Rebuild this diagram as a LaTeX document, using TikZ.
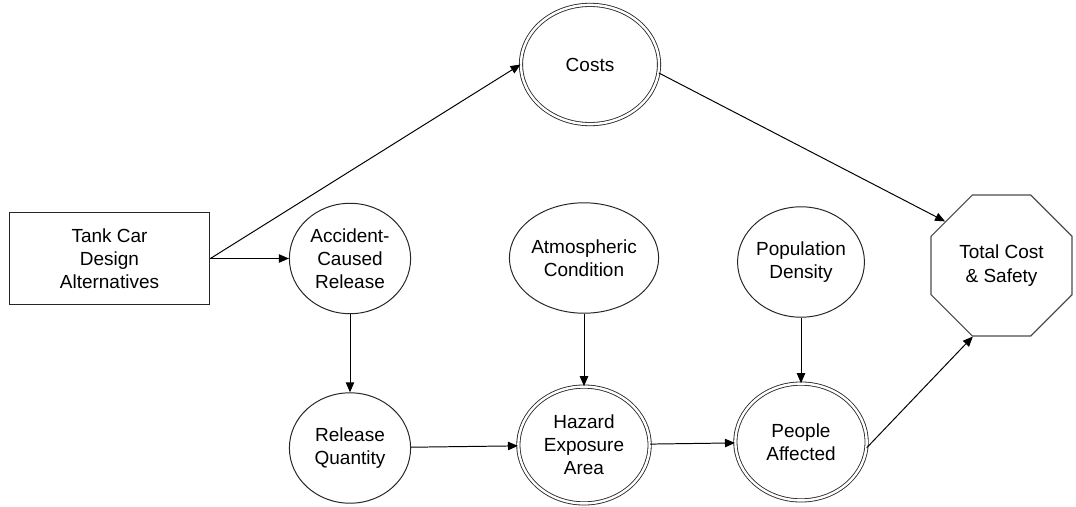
\documentclass[tikz,border=0pt]{standalone}
\usepackage{fontspec}
\setmainfont{Liberation Sans}
\usetikzlibrary{arrows.meta,shapes.geometric}

\begin{document}
\begin{tikzpicture}[x=0.025cm,y=-0.025cm,
  every node/.style={font=\fontsize{13.5}{16.5}\selectfont,align=center,inner sep=0pt},
  chance/.style={ellipse,draw=black!85,line width=0.7pt,minimum width=3.03cm,minimum height=2.76cm},
  value/.style={ellipse,draw=black!85,double,double distance=1.7pt,line width=0.6pt,minimum width=3.28cm,minimum height=2.92cm},
  link/.style={-{Triangle[length=0.25cm,width=0.21cm]},black,line width=0.7pt}]
  \useasboundingbox (0,0) rectangle (1076,506);

  \node[draw=black!85,line width=0.7pt,minimum width=5.02cm,minimum height=2.32cm] (design) at (109.5,258.5) {Tank Car\\Design\\Alternatives};
  \node[chance] (accident) at (350,258.5) {Accident-\\Caused\\Release};
  \node[chance] (quantity) at (350,448) {Release\\Quantity};
  \node[chance] (atmos) at (584,258) {Atmospheric\\Condition};
  \node[value] (hazard) at (584,445) {Hazard\\Exposure\\Area};
  \node[chance] (density) at (801,262) {Population\\Density};
  \node[value] (people) at (801,442) {People\\Affected};
  \node[value,minimum width=3.45cm,minimum height=2.98cm] (costs) at (590,64.5) {Costs};
  \node[draw=black!70,line width=0.8pt,regular polygon,regular polygon sides=8,minimum size=3.815cm] (total) at (1001.5,265.5) {Total Cost\\\& Safety};

  \draw [link] (design) -- (accident);
  \draw [link] (design.east) -- (costs.west);
  \draw [link] (accident) -- (quantity);
  \draw [link] (atmos) -- (hazard);
  \draw [link] (density) -- (people);
  \draw [link] (quantity) -- (hazard);
  \draw [link] (hazard) -- (people);
  \draw [link] (costs.-7) -- (total.142);
  \draw [link] (people.-5) -- (total.-112);
\end{tikzpicture}
\end{document}
